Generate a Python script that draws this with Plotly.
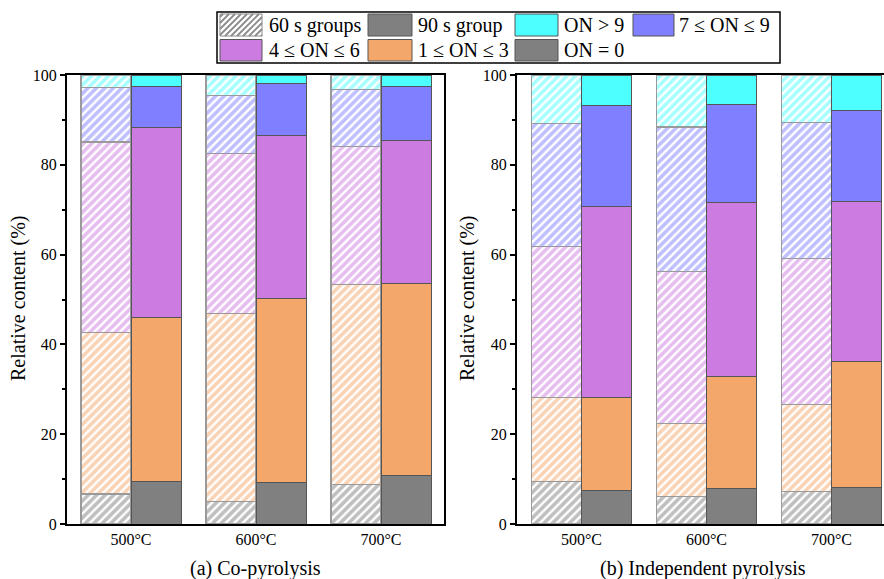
import numpy as np
import plotly.graph_objects as go

# ---------------- data ----------------
temperatures = ["500°C", "600°C", "700°C"]
categories = ["ON = 0", "1 ≤ ON ≤ 3", "4 ≤ ON ≤ 6", "7 ≤ ON ≤ 9", "ON > 9"]

# (a) Co-pyrolysis
co_60s = {
    "ON = 0":      [6.7, 5.1, 8.8],
    "1 ≤ ON ≤ 3":  [36.0, 41.7, 44.6],
    "4 ≤ ON ≤ 6":  [42.4, 35.7, 30.6],
    "7 ≤ ON ≤ 9":  [12.1, 13.0, 12.8],
    "ON > 9":      [2.8, 4.5, 3.2],
}
co_90s = {
    "ON = 0":      [9.5, 9.3, 10.9],
    "1 ≤ ON ≤ 3":  [36.5, 41.0, 42.6],
    "4 ≤ ON ≤ 6":  [42.3, 36.3, 32.0],
    "7 ≤ ON ≤ 9":  [9.2, 11.4, 12.0],
    "ON > 9":      [2.5, 2.0, 2.5],
}
# (b) Independent pyrolysis
ind_60s = {
    "ON = 0":      [9.5, 6.1, 7.3],
    "1 ≤ ON ≤ 3":  [18.6, 16.3, 19.4],
    "4 ≤ ON ≤ 6":  [33.7, 33.8, 32.5],
    "7 ≤ ON ≤ 9":  [27.4, 32.2, 30.3],
    "ON > 9":      [10.8, 11.6, 10.5],
}
ind_90s = {
    "ON = 0":      [7.5, 7.9, 8.2],
    "1 ≤ ON ≤ 3":  [20.6, 25.0, 28.1],
    "4 ≤ ON ≤ 6":  [42.6, 38.7, 35.6],
    "7 ≤ ON ≤ 9":  [22.5, 21.9, 20.2],
    "ON > 9":      [6.8, 6.5, 7.9],
}
colors = {
    "ON = 0": "#808080",
    "1 ≤ ON ≤ 3": "#F4A76A",
    "4 ≤ ON ≤ 6": "#CC7CE0",
    "7 ≤ ON ≤ 9": "#7F7FFF",
    "ON > 9": "#4DFFFF",
}
subtitles = ["(a) Co-pyrolysis", "(b) Independent pyrolysis"]
y_title = "Relative content (%)"

W, H = 884, 579
FONT = "Liberation Serif"

fig = go.Figure()
idx = np.arange(len(temperatures))
panels = [("x", "y", co_60s, co_90s), ("x2", "y2", ind_60s, ind_90s)]
for xa, ya, d60, d90 in panels:
    for group, off, hatched in [(d60, -0.2, True), (d90, 0.2, False)]:
        for cat in categories:
            c = colors[cat]
            if hatched:
                marker = dict(color="white",
                              line=dict(color="#9a9a9a", width=1.2),
                              pattern=dict(shape="/", fgcolor=c, bgcolor="white",
                                           size=6, solidity=0.6, fillmode="overlay"))
            else:
                marker = dict(color=c, line=dict(color="#555555", width=1))
            fig.add_trace(go.Bar(x=idx + off, y=group[cat], width=0.4,
                                 marker=marker, xaxis=xa, yaxis=ya,
                                 showlegend=False, name=cat, hoverinfo="skip"))

def px(x):
    return x / W

def py(y):
    return 1 - y / H

y_dom = [py(524), py(75)]
axis_font = dict(family=FONT, size=16, color="black")
common_y = dict(range=[0, 100], tickvals=[0, 20, 40, 60, 80, 100], ticks="outside",
                ticklen=5, tickwidth=1.5, tickcolor="black", showline=True,
                linecolor="black", linewidth=2, showgrid=False, zeroline=False,
                tickfont=axis_font, domain=y_dom, automargin=False,
                minor=dict(dtick=10, ticks="outside", ticklen=3, tickwidth=1.5,
                           tickcolor="black", showgrid=False))
common_x = dict(tickvals=list(idx), ticktext=temperatures, ticks="", showline=True,
                linecolor="black", linewidth=2, mirror=True, showgrid=False,
                zeroline=False, tickfont=axis_font, automargin=False)

fig.update_layout(
    width=W, height=H, margin=dict(l=0, r=0, t=0, b=0, pad=0, autoexpand=False),
    barmode="stack", plot_bgcolor="white", paper_bgcolor="white",
    showlegend=False,
    xaxis=dict(common_x, domain=[px(67), px(444)], range=[-0.512, 2.504], anchor="y"),
    yaxis=dict(common_y, anchor="x", mirror=True),
    xaxis2=dict(common_x, domain=[px(517), 1.0], range=[-0.516, 2.42], anchor="y2"),
    yaxis2=dict(common_y, anchor="x2", mirror=False),
)

annotations = []
# subtitles
for txt, cx in zip(subtitles, [255.5, 703]):
    annotations.append(dict(text=txt, x=px(cx), y=py(568), xref="paper", yref="paper",
                            showarrow=False, xanchor="center", yanchor="middle",
                            font=dict(family=FONT, size=20, color="black")))
# y titles
for cx in [18, 467]:
    annotations.append(dict(text=y_title, x=px(cx), y=py(298), xref="paper", yref="paper",
                            showarrow=False, textangle=-90, xanchor="center", yanchor="middle",
                            font=dict(family=FONT, size=20, color="black")))

shapes = []
# legend box
shapes.append(dict(type="rect", xref="paper", yref="paper", x0=px(217), x1=px(780),
                   y0=py(63), y1=py(12), line=dict(color="black", width=1.5),
                   fillcolor="white", layer="above"))
legend_items = [
    ("60 s groups", None, 0, 0),
    ("90 s group", "#808080", 0, 1),
    ("ON > 9", colors["ON > 9"], 0, 2),
    ("7 ≤ ON ≤ 9", colors["7 ≤ ON ≤ 9"], 0, 3),
    ("4 ≤ ON ≤ 6", colors["4 ≤ ON ≤ 6"], 1, 0),
    ("1 ≤ ON ≤ 3", colors["1 ≤ ON ≤ 3"], 1, 1),
    ("ON = 0", colors["ON = 0"], 1, 2),
]
col_sw = [(220, 262), (368, 412), (515, 558), (633, 674)]
col_tx = [267, 416, 562, 677]
rows = [(14, 36), (39.5, 61)]
for label, col, r, c in legend_items:
    x0, x1 = col_sw[c]
    y0, y1 = rows[r]
    if col is None:
        shapes.append(dict(type="rect", xref="paper", yref="paper", x0=px(x0), x1=px(x1),
                           y0=py(y1), y1=py(y0), fillcolor="white",
                           line=dict(color="#8a8a8a", width=1), layer="above"))
        cval = x0 + y0 + 3
        while cval < x1 + y1:
            sx = max(x0, cval - y1)
            ex = min(x1, cval - y0)
            if ex > sx:
                shapes.append(dict(type="line", xref="paper", yref="paper",
                                   x0=px(sx), y0=py(cval - sx), x1=px(ex), y1=py(cval - ex),
                                   line=dict(color="#8a8a8a", width=1.8), layer="above"))
            cval += 6
    else:
        shapes.append(dict(type="rect", xref="paper", yref="paper", x0=px(x0), x1=px(x1),
                           y0=py(y1), y1=py(y0), fillcolor=col,
                           line=dict(color="#555555", width=1), layer="above"))
    annotations.append(dict(text=label, x=px(col_tx[c]), y=py((y0 + y1) / 2),
                            xref="paper", yref="paper", showarrow=False,
                            xanchor="left", yanchor="middle",
                            font=dict(family=FONT, size=20, color="black")))

fig.update_layout(annotations=annotations, shapes=shapes)
fig.write_html("out.html")
